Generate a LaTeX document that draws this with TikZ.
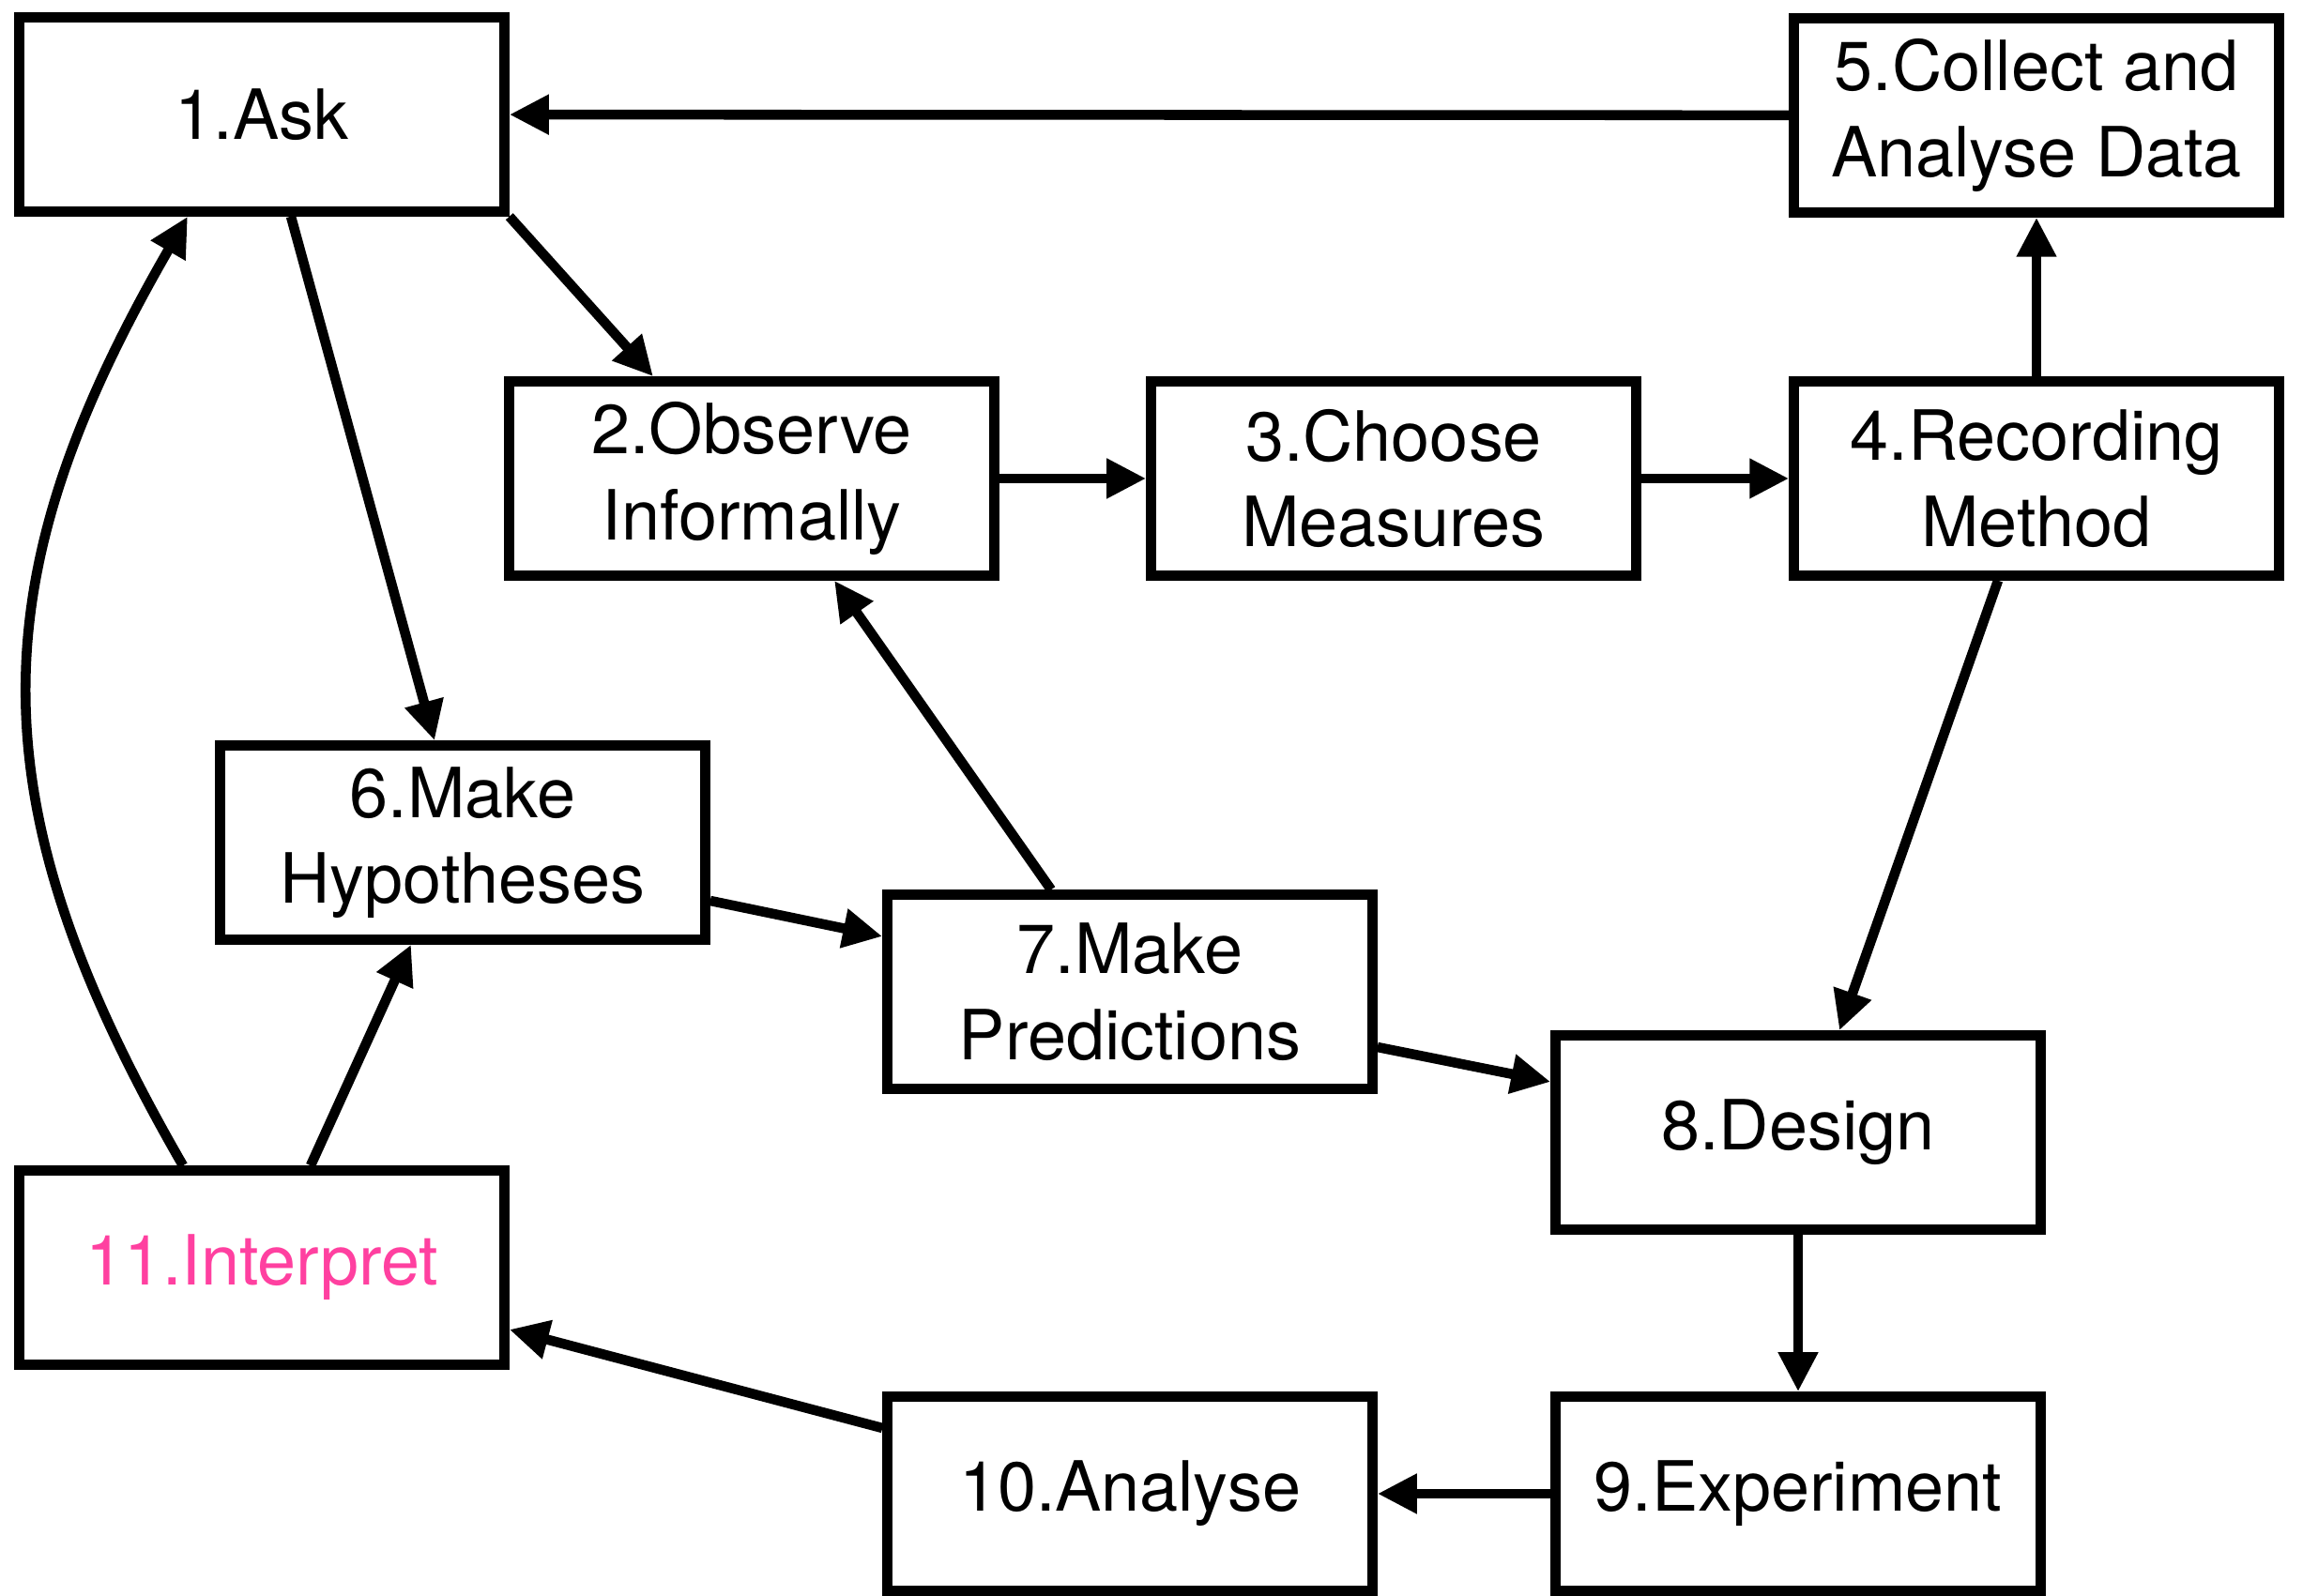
\documentclass[tikz,border=0pt]{standalone}
\usepackage{fontspec}
\setmainfont{TeX Gyre Heros}
\usepackage{xcolor}
\usepackage{tikz}
\usetikzlibrary{arrows.meta, positioning, calc}
\definecolor{interpretpink}{RGB}{255, 64, 160}

\begin{document}
\begin{tikzpicture}[
    box/.style={rectangle, draw=black, line width=3pt, minimum width=5.17cm, minimum height=2.07cm, align=center, font=\fontsize{21}{26}\selectfont},
    arrow/.style={-{Triangle[length=0.42cm, width=0.4cm]}, line width=3pt}
]
% Canvas
\fill[white] (0,0) rectangle (24.54,17.01);
\useasboundingbox (0,0) rectangle (24.54,17.01);

% Top row
\node[box] (ask) at (2.79,15.79) {1.Ask};
\node[box] (collect) at (21.70,15.78) {5.Collect and\\Analyse Data};

% Second row
\node[box] (observe) at (8.01,11.91) {2.Observe\\Informally};
\node[box] (choose) at (14.85,11.91) {3.Choose\\Measures};
\node[box] (recording) at (21.70,11.91) {4.Recording\\Method};

% Middle
\node[box] (hypo) at (4.93,8.03) {6.Make\\Hypotheses};
\node[box] (predict) at (12.04,6.44) {7.Make\\Predictions};
\node[box] (design) at (19.16,4.94) {8.Design};

% Bottom
\node[box, text=interpretpink] (interpret) at (2.79,3.50) {11.Interpret};
\node[box] (analyse) at (12.04,1.09) {10.Analyse};
\node[box] (experiment) at (19.16,1.09) {9.Experiment};

% Arrows
\draw[arrow] (collect) -- (ask);
\draw[arrow] (ask.south east) -- ([xshift=-1.05cm]observe.north);
\draw[arrow] ([xshift=0.31cm]ask.south) -- ([xshift=-0.30cm]hypo.north);
\draw[arrow] (observe) -- (choose);
\draw[arrow] (choose) -- (recording);
\draw[arrow] (recording) -- (collect);
\draw[arrow] ([xshift=-0.41cm]recording.south) -- ([xshift=0.44cm]design.north);
\draw[arrow] ([yshift=-0.62cm]hypo.east) -- ([yshift=0.59cm]predict.west);
\draw[arrow] ([xshift=-0.84cm]predict.north) -- ([xshift=0.88cm]observe.south);
\draw[arrow] ([yshift=-0.59cm]predict.east) -- ([yshift=0.54cm]design.west);
\draw[arrow] (design) -- (experiment);
\draw[arrow] (experiment) -- (analyse);
\draw[arrow] ([yshift=0.70cm]analyse.west) -- ([yshift=-0.66cm]interpret.east);
\draw[arrow] ([xshift=0.52cm]interpret.north) -- ([xshift=-0.55cm]hypo.south);
\draw[arrow] ([xshift=-0.84cm]interpret.north) to[out=120, in=-120, looseness=1.13] ([xshift=-0.79cm]ask.south);
\end{tikzpicture}
\end{document}
